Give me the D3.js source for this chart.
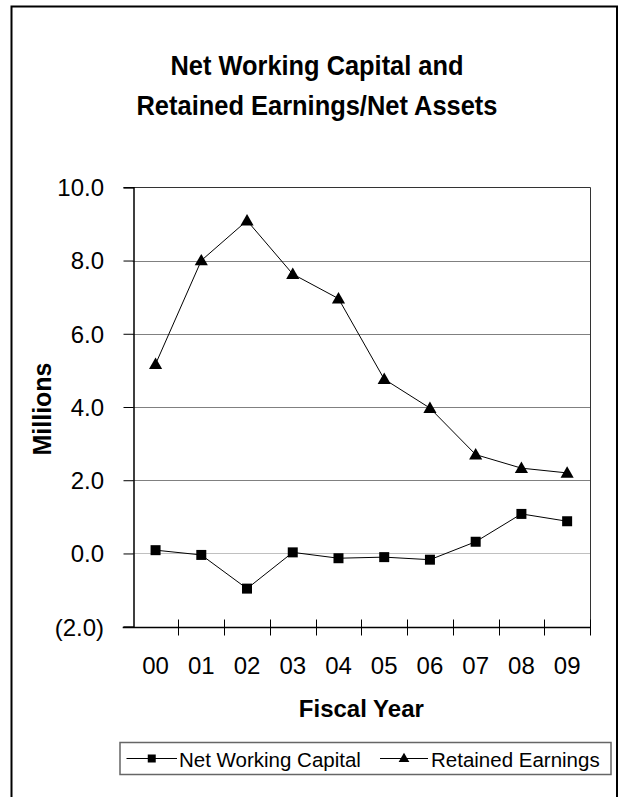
<!DOCTYPE html>
<html>
<head>
<meta charset="utf-8">
<script src="https://cdn.jsdelivr.net/npm/d3@7/dist/d3.min.js"></script>
<style>
  html, body { margin: 0; padding: 0; background: #fff; }
  svg { display: block; }
  text { font-family: "Liberation Sans", Arial, sans-serif; fill: #000; }
</style>
</head>
<body>
<svg id="chart" width="621" height="797"></svg>
<script>
const years = ["00", "01", "02", "03", "04", "05", "06", "07", "08", "09"];
const netWorkingCapital = [0.09, -0.04, -0.96, 0.03, -0.13, -0.10, -0.17, 0.32, 1.08, 0.88];
const retainedEarnings = [5.17, 8.00, 9.09, 7.63, 6.96, 4.76, 3.97, 2.70, 2.33, 2.20];
const yTicks = [-2, 0, 2, 4, 6, 8, 10];
const titleLines = ["Net Working Capital and", "Retained Earnings/Net Assets"];
const seriesNames = ["Net Working Capital", "Retained Earnings"];

const svg = d3.select("#chart");
const W = 621, H = 797;
const plot = { left: 132.7, right: 590, top: 187.3, bottom: 626.7 };

// outer frame (no bottom edge visible)
svg.append("path")
  .attr("d", `M11.5,${H + 2} V6.5 H617 V${H + 2}`)
  .attr("fill", "none").attr("stroke", "#000").attr("stroke-width", 2);

// title
svg.append("text").attr("x", 317).attr("y", 75).attr("text-anchor", "middle")
  .attr("font-size", 27).attr("font-weight", "bold")
  .attr("textLength", 293).attr("lengthAdjust", "spacingAndGlyphs")
  .text(titleLines[0]);
svg.append("text").attr("x", 317).attr("y", 115).attr("text-anchor", "middle")
  .attr("font-size", 27).attr("font-weight", "bold")
  .attr("textLength", 361).attr("lengthAdjust", "spacingAndGlyphs")
  .text(titleLines[1]);

const x = d3.scaleBand().domain(years).range([plot.left, plot.right]);
const y = d3.scaleLinear().domain([-2, 10]).range([plot.bottom, plot.top]);
const fmt = v => v < 0 ? `(${Math.abs(v).toFixed(1)})` : v.toFixed(1);

// gridlines
svg.append("g").selectAll("line").data(yTicks.filter(v => v > -2 && v < 10)).join("line")
  .attr("x1", plot.left).attr("x2", plot.right)
  .attr("y1", d => Math.round(y(d)) + 0.5).attr("y2", d => Math.round(y(d)) + 0.5)
  .attr("stroke", d => d === 0 ? "#c0c0c0" : "#808080").attr("stroke-width", 1);

// plot border (top and right)
svg.append("path")
  .attr("d", `M${plot.left},${Math.round(plot.top) + 0.5} H${Math.round(plot.right) + 0.5} V${plot.bottom}`)
  .attr("fill", "none").attr("stroke", "#333").attr("stroke-width", 1);

// y axis
const yAxis = svg.append("g").attr("transform", `translate(${Math.round(plot.left) + 0.5},0)`)
  .call(d3.axisLeft(y).tickValues(yTicks).tickFormat(fmt).tickSize(10).tickPadding(20));
yAxis.select(".domain").attr("stroke", "#000").attr("stroke-width", 1.5);
yAxis.selectAll(".tick line").attr("stroke", "#000");
yAxis.selectAll(".tick text").attr("font-size", 24).attr("font-family", "Liberation Sans, Arial, sans-serif")
  .attr("dy", "0.35em").attr("x", -29.5);

// x axis (ticks at band boundaries, crossing)
const xAxisG = svg.append("g").attr("transform", `translate(0,${Math.round(plot.bottom) + 0.5})`);
xAxisG.append("line").attr("x1", plot.left - 10).attr("x2", plot.right)
  .attr("stroke", "#000").attr("stroke-width", 1.5);
const boundaries = years.map(d => x(d)).concat([x(years[years.length - 1]) + x.bandwidth()]);
xAxisG.selectAll("line.tk").data(boundaries.slice(1)).join("line").attr("class", "tk")
  .attr("x1", d => Math.round(d) + 0.5).attr("x2", d => Math.round(d) + 0.5)
  .attr("y1", -8).attr("y2", 8).attr("stroke", "#000");
xAxisG.selectAll("text").data(years).join("text")
  .attr("x", d => x(d) + x.bandwidth() / 2).attr("y", 46.5)
  .attr("text-anchor", "middle").attr("font-size", 24).text(d => d);

// axis titles
svg.append("text").attr("x", (plot.left + plot.right) / 2).attr("y", 717)
  .attr("text-anchor", "middle").attr("font-size", 24).attr("font-weight", "bold").text("Fiscal Year");
svg.append("text").attr("transform", `translate(51,${(plot.top + plot.bottom) / 2 + 2}) rotate(-90)`)
  .attr("text-anchor", "middle").attr("font-size", 25).attr("font-weight", "bold").text("Millions");

// lines and markers
const cx = d => x(d) + x.bandwidth() / 2;
const line = d3.line().x((d, i) => cx(years[i])).y(d => y(d));
svg.append("path").datum(netWorkingCapital).attr("d", line)
  .attr("fill", "none").attr("stroke", "#000").attr("stroke-width", 1);
svg.append("path").datum(retainedEarnings).attr("d", line)
  .attr("fill", "none").attr("stroke", "#000").attr("stroke-width", 1);

const sq = d3.symbol().type(d3.symbolSquare).size(100);
const tri = d3.symbol().type(d3.symbolTriangle).size(75);
svg.append("g").selectAll("path").data(netWorkingCapital).join("path")
  .attr("d", sq).attr("transform", (d, i) => `translate(${cx(years[i])},${y(d)})`).attr("fill", "#000");
svg.append("g").selectAll("path").data(retainedEarnings).join("path")
  .attr("d", tri).attr("transform", (d, i) => `translate(${cx(years[i])},${y(d) + 1})`).attr("fill", "#000");

// legend
const lg = svg.append("g");
lg.append("rect").attr("x", 120).attr("y", 742.5).attr("width", 491).attr("height", 32)
  .attr("fill", "#fff").attr("stroke", "#666").attr("stroke-width", 1.5);
const items = [
  { name: seriesNames[0], x0: 126.5, x1: 177, sym: sq, tx: 179 },
  { name: seriesNames[1], x0: 380, x1: 428, sym: tri, tx: 431 }
];
items.forEach(it => {
  lg.append("line").attr("x1", it.x0).attr("x2", it.x1).attr("y1", 758.5).attr("y2", 758.5)
    .attr("stroke", "#000").attr("stroke-width", 1);
  lg.append("path").attr("d", it.sym === sq ? d3.symbol().type(d3.symbolSquare).size(64)() : d3.symbol().type(d3.symbolTriangle).size(50)())
    .attr("transform", `translate(${(it.x0 + it.x1) / 2},${it.sym === sq ? 758.5 : 759})`).attr("fill", "#000");
  lg.append("text").attr("x", it.tx).attr("y", 766.5).attr("font-size", 20.5).text(it.name);
});
</script>
</body>
</html>
